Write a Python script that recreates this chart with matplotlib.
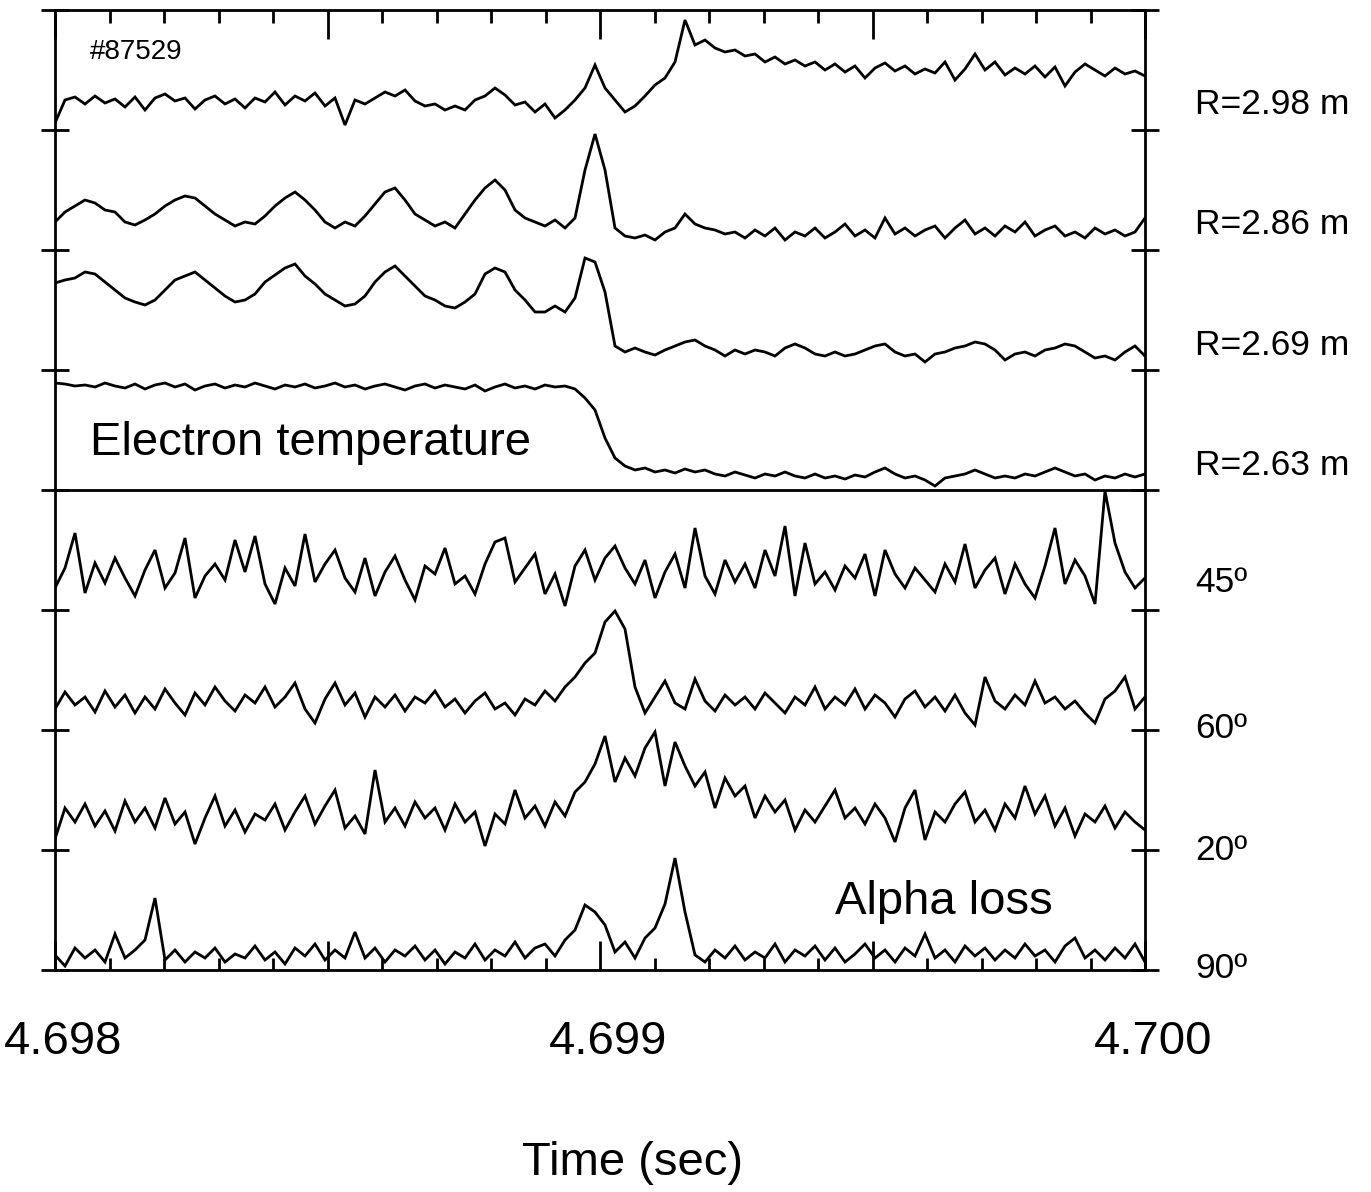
import numpy as np
import matplotlib
matplotlib.use('Agg')
import matplotlib.pyplot as plt
from matplotlib.ticker import MultipleLocator, FixedLocator
from matplotlib.transforms import ScaledTranslation

plt.rcParams['font.family'] = ['Liberation Sans', 'DejaVu Sans']

# time base (sec), 110 samples
t = np.linspace(4.698, 4.700, 110)

# electron temperature channels (a.u., height above each channel's baseline)
te_298 = [7, 30, 33, 26, 34, 27, 31, 23, 33, 20,
          32, 36, 29, 32, 21, 30, 34, 26, 31, 22,
          32, 28, 38, 25, 34, 29, 37, 24, 32, 5,
          30, 26, 32, 38, 34, 40, 29, 24, 26, 20,
          24, 20, 30, 34, 42, 35, 25, 28, 18, 26,
          12, 20, 30, 42, 65, 42, 30, 18, 24, 34,
          45, 52, 68, 110, 85, 90, 82, 78, 80, 74,
          76, 68, 73, 66, 70, 64, 68, 60, 66, 58,
          64, 52, 62, 67, 59, 64, 56, 61, 57, 68,
          50, 61, 76, 60, 68, 55, 62, 56, 64, 53,
          63, 44, 58, 66, 60, 54, 62, 56, 59, 54]
te_286 = [28, 38, 44, 50, 47, 40, 38, 28, 25, 30,
          36, 44, 50, 54, 52, 44, 36, 30, 24, 28,
          26, 34, 44, 52, 58, 50, 40, 28, 22, 28,
          24, 34, 46, 58, 62, 50, 36, 30, 24, 28,
          22, 36, 50, 62, 70, 60, 40, 32, 28, 24,
          30, 22, 32, 80, 116, 80, 22, 14, 12, 15,
          10, 18, 22, 36, 26, 22, 20, 16, 18, 12,
          20, 14, 22, 10, 18, 14, 22, 12, 18, 26,
          14, 20, 12, 32, 16, 22, 14, 20, 24, 12,
          22, 30, 16, 22, 14, 24, 18, 28, 14, 20,
          24, 14, 18, 12, 22, 16, 20, 14, 18, 32]
te_269 = [87, 90, 92, 98, 96, 88, 80, 72, 68, 65,
          70, 80, 90, 94, 98, 90, 82, 74, 68, 70,
          76, 88, 95, 102, 106, 94, 86, 76, 70, 64,
          66, 74, 88, 98, 104, 94, 84, 74, 70, 64,
          62, 68, 76, 96, 102, 98, 80, 70, 58, 58,
          64, 58, 72, 112, 108, 78, 24, 18, 22, 18,
          15, 20, 24, 28, 30, 24, 20, 14, 20, 16,
          20, 18, 14, 22, 26, 22, 16, 14, 18, 14,
          16, 20, 24, 26, 18, 14, 16, 8, 16, 18,
          22, 24, 28, 26, 20, 10, 16, 18, 14, 20,
          22, 26, 24, 18, 12, 14, 10, 18, 24, 14]
te_263 = [107, 106, 104, 105, 103, 107, 104, 102, 106, 101,
          105, 107, 103, 106, 100, 104, 106, 102, 105, 103,
          107, 104, 101, 105, 103, 106, 102, 104, 107, 103,
          105, 101, 104, 106, 103, 100, 104, 106, 102, 105,
          103, 101, 105, 99, 103, 106, 102, 104, 101, 105,
          103, 104, 101, 92, 80, 52, 32, 24, 20, 22,
          18, 20, 17, 21, 18, 20, 16, 14, 18, 15,
          12, 16, 14, 18, 14, 12, 16, 12, 14, 11,
          15, 13, 18, 22, 16, 12, 14, 10, 4, 12,
          14, 16, 20, 16, 12, 14, 12, 16, 14, 18,
          22, 18, 14, 16, 10, 14, 12, 16, 13, 16]

# alpha loss detectors
al_45 = [22, 42, 77, 17, 47, 27, 52, 32, 14, 40,
         60, 22, 37, 72, 12, 34, 46, 30, 70, 38,
         74, 26, 6, 42, 24, 76, 28, 46, 60, 32,
         18, 52, 14, 38, 54, 30, 10, 44, 36, 62,
         26, 34, 16, 46, 68, 72, 28, 42, 56, 16,
         36, 4, 44, 60, 30, 52, 64, 42, 26, 50,
         12, 38, 56, 22, 82, 34, 16, 50, 28, 46,
         22, 60, 34, 84, 14, 67, 26, 38, 20, 44,
         32, 56, 14, 60, 36, 22, 42, 30, 18, 46,
         28, 66, 22, 40, 52, 16, 46, 26, 12, 44,
         82, 26, 50, 34, 6, 119, 67, 38, 22, 32]
al_60 = [21, 38, 25, 33, 18, 39, 23, 35, 17, 33,
         21, 41, 27, 15, 37, 25, 43, 29, 19, 35,
         27, 43, 23, 33, 47, 21, 7, 31, 47, 25,
         37, 13, 33, 23, 35, 19, 33, 27, 39, 23,
         31, 17, 29, 37, 21, 27, 15, 31, 25, 39,
         29, 43, 53, 67, 77, 108, 119, 101, 43, 17,
         33, 49, 27, 21, 51, 29, 19, 35, 25, 33,
         21, 37, 27, 17, 33, 25, 43, 21, 33, 25,
         41, 21, 35, 27, 13, 31, 39, 23, 33, 19,
         35, 17, 5, 53, 29, 21, 35, 25, 49, 27,
         33, 21, 29, 17, 7, 31, 39, 53, 21, 33]
al_20 = [11, 42, 28, 46, 24, 39, 19, 49, 28, 42,
         22, 52, 26, 38, 6, 32, 54, 24, 40, 18,
         36, 30, 46, 20, 38, 54, 26, 44, 60, 22,
         34, 16, 80, 28, 42, 24, 48, 32, 42, 20,
         46, 28, 38, 4, 36, 26, 60, 32, 44, 24,
         48, 34, 58, 68, 86, 114, 68, 92, 74, 102,
         118, 64, 108, 84, 64, 78, 42, 72, 54, 64,
         32, 54, 38, 50, 20, 40, 28, 44, 60, 32,
         42, 26, 46, 32, 8, 42, 60, 10, 38, 28,
         46, 58, 28, 40, 20, 46, 32, 64, 36, 54,
         24, 42, 14, 36, 28, 44, 22, 38, 28, 20]
al_90 = [15, 4, 22, 12, 20, 8, 36, 12, 20, 30,
         72, 10, 20, 8, 18, 12, 22, 8, 16, 12,
         24, 10, 18, 6, 22, 14, 26, 10, 20, 12,
         38, 12, 22, 8, 20, 14, 24, 10, 20, 6,
         18, 12, 26, 10, 20, 14, 28, 12, 22, 26,
         14, 30, 40, 65, 58, 45, 18, 28, 12, 32,
         42, 66, 112, 58, 15, 8, 20, 12, 24, 10,
         18, 12, 26, 8, 20, 14, 24, 10, 22, 8,
         16, 26, 12, 20, 8, 22, 14, 36, 12, 20,
         8, 24, 14, 22, 10, 20, 12, 26, 14, 20,
         8, 24, 32, 12, 20, 10, 22, 12, 26, 8]

traces = [te_298, te_286, te_269, te_263, al_45, al_60, al_20, al_90]
names = ['R=2.98 m', 'R=2.86 m', 'R=2.69 m', 'R=2.63 m',
         '45º', '60º', '20º', '90º']
band = 120  # height of one channel strip

W, H = 1371, 1192
fig = plt.figure(figsize=(W / 100, H / 100), dpi=100)
ax = fig.add_axes([55 / W, 1 - 970 / H, 1090 / W, 960 / H])

n = len(traces)
for i, tr in enumerate(traces):
    off = (n - 1 - i) * band
    ax.plot(t, np.array(tr) + off, color='black', lw=2.0, solid_joinstyle='miter')

ax.axhline(4 * band, color='black', lw=2.0)
ax.set_xlim(4.698, 4.700)
ax.set_ylim(0, n * band)

for s in ax.spines.values():
    s.set_linewidth(2.0)

# y ticks crossing both side axes
ax.yaxis.set_major_locator(FixedLocator(np.arange(0, n * band + 1, band)))
ax.tick_params(axis='y', which='major', direction='inout', length=20, width=2.0,
               left=True, right=True, labelleft=False, labelright=False)

# x ticks, inward on top and bottom
ax.xaxis.set_major_locator(MultipleLocator(0.0005))
ax.xaxis.set_minor_locator(MultipleLocator(0.0001))
ax.tick_params(axis='x', which='major', direction='in', length=21, width=2.0,
               top=True, bottom=True, pad=36, labelsize=34)
ax.tick_params(axis='x', which='minor', direction='in', length=9, width=2.0,
               top=True, bottom=True)
ax.set_xticks([4.698, 4.6985, 4.699, 4.6995, 4.700])
ax.set_xticklabels(['4.698', '', '4.699', '', '4.700'])
for lab in ax.get_xticklabels():
    lab.set_transform(lab.get_transform() + ScaledTranslation(0.08, 0, fig.dpi_scale_trans))

# channel names at the right
base_y = [114, 234, 355, 475, 592, 738, 860, 978]
for nm, by in zip(names, base_y):
    fig.text(1195 / W, 1 - by / H, nm, fontsize=25.5, va='baseline', ha='left')

fig.text(90 / W, 1 - 52 / H, '#87529', fontsize=20, va='center', ha='left')
fig.text(90 / W, 1 - 443 / H, 'Electron temperature', fontsize=34, va='center', ha='left')
fig.text(835 / W, 1 - 902 / H, 'Alpha loss', fontsize=34, va='center', ha='left')
fig.text(633 / W, 1 - 1163 / H, 'Time (sec)', fontsize=34, va='center', ha='center')

fig.savefig('out.png', dpi=100)
